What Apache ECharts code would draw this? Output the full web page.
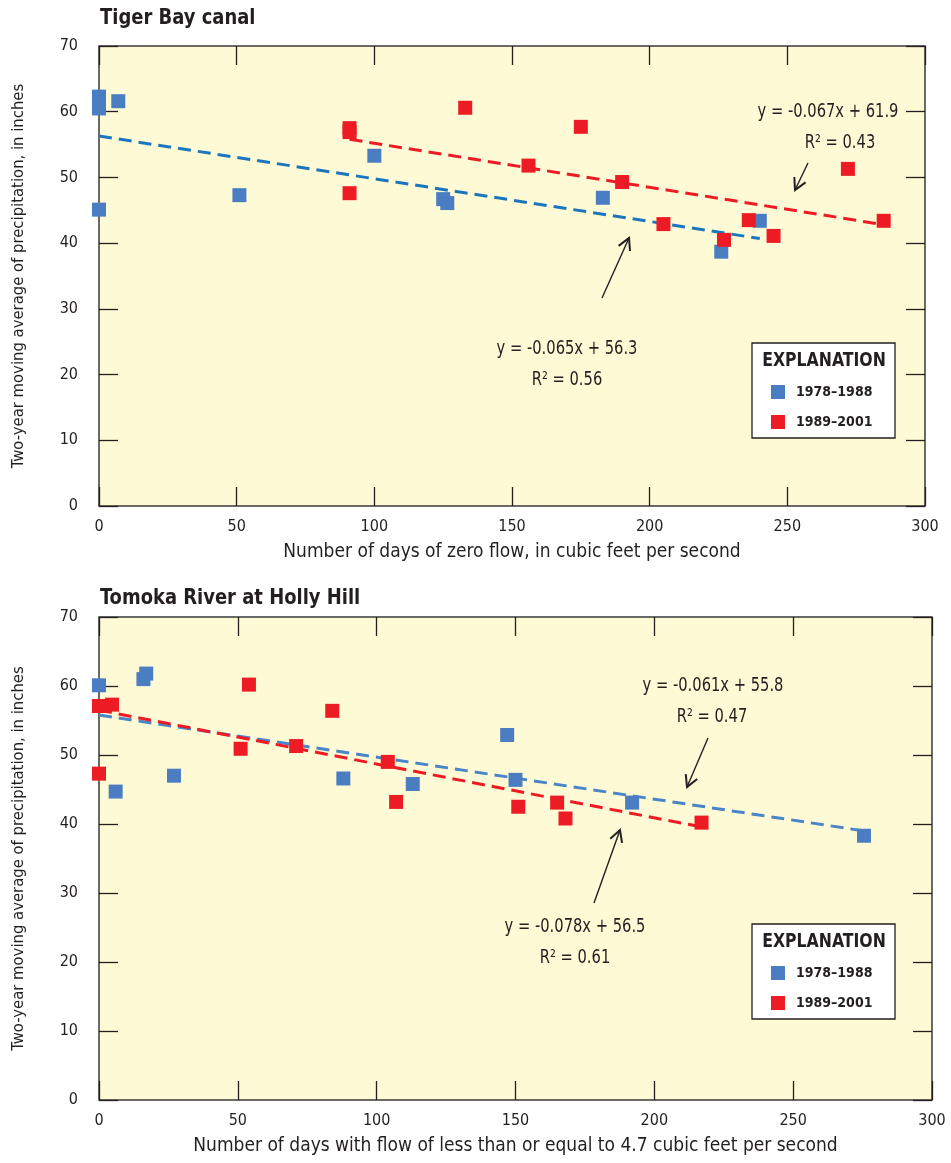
<!DOCTYPE html>
<html>
<head>
<meta charset="utf-8">
<script src="https://cdn.jsdelivr.net/npm/echarts@6/dist/echarts.min.js"></script>
<style>
  html, body { margin: 0; padding: 0; background: #ffffff; }
  #chart { width: 951px; height: 1163px; }
</style>
</head>
<body>
<div id="chart"></div>
<script>
// Tick ranges shared by both panels: [min, max, interval]
const xTicks = [0, 300, 50];
const yTicks = [0, 70, 10];

const periodNames = ['1978–1988', '1989–2001'];

// Tiger Bay canal: [days of zero flow, two-year moving average precipitation]
const tigerEarly = [[0, 62.3], [0, 60.5], [7, 61.6], [0, 45.1], [51, 47.3], [100, 53.3],
  [125, 46.7], [126.5, 46.1], [183, 46.9], [226, 38.7], [240, 43.4]];
const tigerLate = [[91, 57.5], [91, 56.9], [91, 47.6], [133, 60.6], [156, 51.8], [175, 57.7],
  [190, 49.3], [205, 42.9], [227, 40.5], [236, 43.5], [245, 41.1], [272, 51.3], [285, 43.4]];

// Tomoka River at Holly Hill: [days with flow <= 4.7 cfs, precipitation]
const tomokaEarly = [[0, 60.1], [16, 61.0], [17, 61.8], [6, 44.7], [27, 47.0], [88, 46.6],
  [113, 45.8], [147, 52.9], [150, 46.4], [192, 43.1], [275.5, 38.3]];
const tomokaLate = [[0, 57.1], [4.7, 57.3], [0, 47.3], [51, 50.9], [54, 60.2], [71, 51.3],
  [84, 56.4], [104, 49.0], [107, 43.2], [151, 42.5], [165, 43.1], [168, 40.8], [217, 40.2]];

// Regression lines: [slope, intercept] and the x span they cover
const tigerEarlyFit = [-0.065, 56.3], tigerEarlySpan = [0, 240];
const tigerLateFit = [-0.067, 61.9], tigerLateSpan = [91, 285];
const tomokaEarlyFit = [-0.061, 55.8], tomokaEarlySpan = [0, 275];
const tomokaLateFit = [-0.078, 56.5], tomokaLateSpan = [0, 217];

const fitEq = ['y = -0.065x + 56.3', 'y = -0.067x + 61.9', 'y = -0.061x + 55.8', 'y = -0.078x + 56.5'];
const fitR2 = ['R² = 0.56', 'R² = 0.43', 'R² = 0.47', 'R² = 0.61'];

const NARROW = '"Liberation Sans Narrow", "DejaVu Sans Condensed", "Arial Narrow", sans-serif';
const INK = '#231F20';
const BLUE = '#4A7DC2';
const BLUE_LINE = '#1C76BD';
const RED = '#ED1C24';
const PAPER = '#FFFAD6';

function fitLine(fit, span) {
  return span.map(x => [x, +(fit[0] * x + fit[1]).toFixed(3)]);
}

const grids = [
  { left: 99, top: 46, width: 826, height: 460 },
  { left: 99, top: 617, width: 833, height: 483 }
];
const xNames = ['Number of days of zero flow, in cubic feet per second',
  'Number of days with flow of less than or equal to 4.7 cubic feet per second'];
const yName = 'Two-year moving average of precipitation, in inches';

const xAxes = [], yAxes = [];
grids.forEach((g, i) => {
  const tick = { show: true, inside: true, length: 19, lineStyle: { color: INK, width: 1.3 } };
  const line = { show: false, onZero: false };
  xAxes.push({
    gridIndex: i, type: 'value', position: 'bottom',
    min: xTicks[0], max: xTicks[1], interval: xTicks[2],
    axisLine: line, axisTick: tick, splitLine: { show: false },
    axisLabel: { color: INK, fontFamily: NARROW, fontSize: 16, margin: 13 },
    name: xNames[i], nameLocation: 'middle', nameGap: 37,
    nameTextStyle: { color: INK, fontFamily: NARROW, fontSize: 19 }
  });
  xAxes.push({
    gridIndex: i, type: 'value', position: 'top',
    min: xTicks[0], max: xTicks[1], interval: xTicks[2],
    axisLine: line, axisTick: tick, splitLine: { show: false },
    axisLabel: { show: false }
  });
  yAxes.push({
    gridIndex: i, type: 'value', position: 'left',
    min: yTicks[0], max: yTicks[1], interval: yTicks[2],
    axisLine: line, axisTick: tick, splitLine: { show: false },
    axisLabel: { color: INK, fontFamily: NARROW, fontSize: 16, margin: 21 },
    name: yName, nameLocation: 'middle', nameGap: 72, nameRotate: 90,
    nameTextStyle: { color: INK, fontFamily: NARROW, fontSize: 16.5 }
  });
  yAxes.push({
    gridIndex: i, type: 'value', position: 'right',
    min: yTicks[0], max: yTicks[1], interval: yTicks[2],
    axisLine: line, axisTick: tick, splitLine: { show: false },
    axisLabel: { show: false }
  });
});

function trend(name, data, color, gi) {
  return {
    name: name, type: 'line', xAxisIndex: gi * 2, yAxisIndex: gi * 2,
    data: data, symbol: 'none', silent: true, z: 2,
    lineStyle: { color: color, width: 3, type: [13, 7] }
  };
}
function points(name, data, color, gi, z) {
  return {
    name: name, type: 'scatter', xAxisIndex: gi * 2, yAxisIndex: gi * 2,
    data: data, symbol: 'rect', symbolSize: 14, z: z,
    itemStyle: { color: color, opacity: 1 }
  };
}

const series = [
  trend('fit-tiger-early', fitLine(tigerEarlyFit, tigerEarlySpan), BLUE_LINE, 0),
  trend('fit-tiger-late', fitLine(tigerLateFit, tigerLateSpan), RED, 0),
  points(periodNames[0], tigerEarly, BLUE, 0, 3),
  points(periodNames[1], tigerLate, RED, 0, 4),
  trend('fit-tomoka-early', fitLine(tomokaEarlyFit, tomokaEarlySpan), '#4A85C8', 1),
  trend('fit-tomoka-late', fitLine(tomokaLateFit, tomokaLateSpan), RED, 1),
  points(periodNames[0], tomokaEarly, BLUE, 1, 3),
  points(periodNames[1], tomokaLate, RED, 1, 4)
];

// Open arrowhead pointing from (x1,y1) towards (x2,y2)
function arrow(x1, y1, x2, y2) {
  const a = Math.atan2(y2 - y1, x2 - x1);
  const L = 13, s = 0.5;
  const h1 = [x2 - L * Math.cos(a - s), y2 - L * Math.sin(a - s)];
  const h2 = [x2 - L * Math.cos(a + s), y2 - L * Math.sin(a + s)];
  return [
    { type: 'polyline', shape: { points: [[x1, y1], [x2, y2]] }, style: { stroke: INK, lineWidth: 1.4, fill: null }, z: 20 },
    { type: 'polyline', shape: { points: [h1, [x2, y2], h2] }, style: { stroke: INK, lineWidth: 2, fill: null }, z: 20 }
  ];
}
// Condensed text: drawn at (x, y) and squeezed horizontally
function text(str, x, y, font, sx, align) {
  return { type: 'text', z: 20, x: x, y: y, scaleX: sx, scaleY: 1,
    style: { text: str, x: 0, y: 0, align: align || 'center', verticalAlign: 'middle', fill: INK, font: font } };
}
function label(str, x, y) {
  return text(str, x, y, '19px ' + NARROW, 0.86);
}
function legendBox(top) {
  return [
    { type: 'rect', z: 5, shape: { x: 752, y: top, width: 143, height: 95 },
      style: { fill: '#ffffff', stroke: INK, lineWidth: 1.3 } },
    Object.assign(text('EXPLANATION', 824, top + 18, 'bold 19px ' + NARROW, 0.92), { z: 6 })
  ];
}

const graphic = [
  text('Tiger Bay canal', 100, 19, 'bold 21px ' + NARROW, 0.95, 'left'),
  text('Tomoka River at Holly Hill', 100, 599, 'bold 21px ' + NARROW, 0.95, 'left'),
  label(fitEq[1], 828, 112), label(fitR2[1], 840, 143),
  ...arrow(808, 163, 795, 190),
  label(fitEq[0], 567, 349), label(fitR2[0], 567, 380),
  ...arrow(602, 298, 629, 238),
  label(fitEq[2], 713, 686), label(fitR2[2], 712, 717),
  ...arrow(708, 738, 687, 787),
  label(fitEq[3], 575, 927), label(fitR2[3], 575, 958),
  ...arrow(594, 903, 620, 830),
  ...legendBox(343),
  ...legendBox(924)
];

function legend(top) {
  return {
    data: periodNames, orient: 'vertical', left: 771, top: top, z: 10, padding: 0,
    icon: 'rect', itemWidth: 14, itemHeight: 14, itemGap: 16, selectedMode: false,
    textStyle: { color: INK, fontFamily: NARROW, fontWeight: 'bold', fontSize: 14, lineHeight: 14, padding: [0, 0, 0, 6] }
  };
}

const chart = echarts.init(document.getElementById('chart'), null, { renderer: 'canvas' });
chart.setOption({
  backgroundColor: '#ffffff',
  animation: false,
  grid: grids.map(g => Object.assign({ show: true, backgroundColor: PAPER, borderColor: '#3a3a3a', borderWidth: 1.5 }, g)),
  xAxis: xAxes,
  yAxis: yAxes,
  legend: [legend(385), legend(966)],
  graphic: graphic,
  series: series
});
</script>
</body>
</html>
